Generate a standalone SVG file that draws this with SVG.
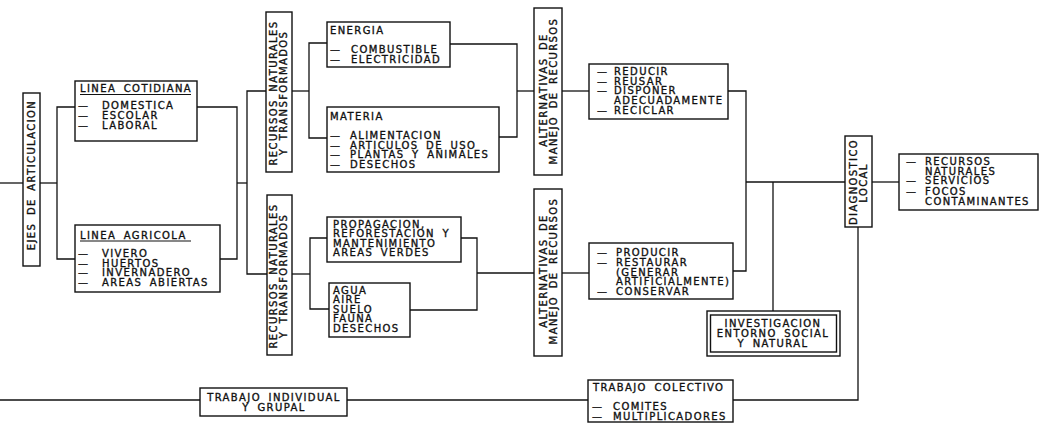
<svg xmlns="http://www.w3.org/2000/svg" width="1039" height="428" viewBox="0 0 1039 428">
<style>
.t{font-family:"DejaVu Sans","Liberation Sans",sans-serif;font-size:10px;letter-spacing:1.4px;word-spacing:3px;fill:#111;stroke:#111;stroke-width:0.35px}
.m{text-anchor:middle}
.b{fill:#fff;stroke:#111;stroke-width:1.4}
.c{fill:none;stroke:#111;stroke-width:1.3}
.u{stroke:#111;stroke-width:1.2}
</style>
<rect width="1039" height="428" fill="#fff"/>
<g id="connectors" class="c">
<path d="M0,183 H23"/>
<path d="M40,183 H57"/>
<path d="M75,107 H57 V259 H75"/>
<path d="M197,107 H237 V259 H220"/>
<path d="M237,183 H247"/>
<path d="M266,91 H247 V274 H267"/>
<path d="M292,91 H309"/>
<path d="M327,43 H309 V138 H327"/>
<path d="M450,44 H517 V137 H499"/>
<path d="M517,91 H534"/>
<path d="M562,91 H589"/>
<path d="M292,274 H310"/>
<path d="M327,238 H310 V309 H329"/>
<path d="M461,238 H477 V310 H410"/>
<path d="M477,273 H534"/>
<path d="M562,273 H589"/>
<path d="M728,91 H746 V271 H733"/>
<path d="M746,182 H845"/>
<path d="M773,182 V311"/>
<path d="M872,182 H899"/>
<path d="M858,227 V400 H733"/>
<path d="M0,400 H200"/>
<path d="M347,400 H588"/>
</g>
<g id="ejes">
<rect class="b" x="23" y="93" width="17" height="173"/>
<text class="t m" transform="translate(35,175) rotate(-90)">EJES DE ARTICULACION</text>
</g>
<g id="linea-cotidiana">
<rect class="b" x="75" y="81" width="122" height="60"/>
<text class="t" x="80" y="92">LINEA COTIDIANA</text>
<line class="u" x1="80" y1="94.5" x2="191" y2="94.5"/>
<text class="t"><tspan x="78" y="109">—</tspan><tspan x="102">DOMESTICA</tspan></text>
<text class="t"><tspan x="78" y="118.5">—</tspan><tspan x="102">ESCOLAR</tspan></text>
<text class="t"><tspan x="78" y="128.5">—</tspan><tspan x="102">LABORAL</tspan></text>
</g>
<g id="linea-agricola">
<rect class="b" x="75" y="225" width="145" height="67"/>
<text class="t" x="80" y="238.5">LINEA AGRICOLA</text>
<line class="u" x1="80" y1="241" x2="191" y2="241"/>
<text class="t"><tspan x="78" y="257">—</tspan><tspan x="102">VIVERO</tspan></text>
<text class="t"><tspan x="78" y="266.5">—</tspan><tspan x="102">HUERTOS</tspan></text>
<text class="t"><tspan x="78" y="276">—</tspan><tspan x="102">INVERNADERO</tspan></text>
<text class="t"><tspan x="78" y="286">—</tspan><tspan x="102">AREAS ABIERTAS</tspan></text>
</g>
<g id="recursos-1">
<rect class="b" x="266" y="12" width="26" height="160"/>
<text class="t m" transform="translate(276.5,93) rotate(-90)">RECURSOS NATURALES</text>
<text class="t m" transform="translate(286.5,93) rotate(-90)">Y TRANSFORMADOS</text>
</g>
<g id="energia">
<rect class="b" x="327" y="22" width="123" height="45"/>
<text class="t" x="330" y="33.5">ENERGIA</text>
<text class="t"><tspan x="330" y="53">—</tspan><tspan x="351">COMBUSTIBLE</tspan></text>
<text class="t"><tspan x="330" y="62.5">—</tspan><tspan x="351">ELECTRICIDAD</tspan></text>
</g>
<g id="materia">
<rect class="b" x="327" y="107" width="172" height="65"/>
<text class="t" x="330" y="119.5">MATERIA</text>
<text class="t"><tspan x="330" y="138.5">—</tspan><tspan x="350">ALIMENTACION</tspan></text>
<text class="t"><tspan x="330" y="148.5">—</tspan><tspan x="350">ARTICULOS DE USO</tspan></text>
<text class="t"><tspan x="330" y="158">—</tspan><tspan x="350">PLANTAS Y ANIMALES</tspan></text>
<text class="t"><tspan x="330" y="167.5">—</tspan><tspan x="350">DESECHOS</tspan></text>
</g>
<g id="alternativas-1">
<rect class="b" x="534" y="8" width="28" height="167"/>
<text class="t m" transform="translate(547,90) rotate(-90)">ALTERNATIVAS DE</text>
<text class="t m" transform="translate(556.5,91) rotate(-90)">MANEJO DE RECURSOS</text>
</g>
<g id="reducir">
<rect class="b" x="589" y="64" width="139" height="55"/>
<text class="t"><tspan x="597" y="75">—</tspan><tspan x="614">REDUCIR</tspan></text>
<text class="t"><tspan x="597" y="84.5">—</tspan><tspan x="614">REUSAR</tspan></text>
<text class="t"><tspan x="597" y="94">—</tspan><tspan x="614">DISPONER</tspan></text>
<text class="t" x="614" y="104">ADECUADAMENTE</text>
<text class="t"><tspan x="597" y="113.5">—</tspan><tspan x="614">RECICLAR</tspan></text>
</g>
<g id="recursos-2">
<rect class="b" x="267" y="195" width="25" height="160"/>
<text class="t m" transform="translate(276.5,276) rotate(-90)">RECURSOS NATURALES</text>
<text class="t m" transform="translate(286.5,276) rotate(-90)">Y TRANSFORMADOS</text>
</g>
<g id="propagacion">
<rect class="b" x="327" y="217" width="134" height="45"/>
<text class="t" x="333" y="227.5">PROPAGACION,</text>
<text class="t" x="333" y="237">REFORESTACION Y</text>
<text class="t" x="333" y="246.5">MANTENIMIENTO</text>
<text class="t" x="333" y="256">AREAS VERDES</text>
</g>
<g id="agua">
<rect class="b" x="329" y="283" width="81" height="54"/>
<text class="t" x="333" y="293.5">AGUA</text>
<text class="t" x="333" y="303">AIRE</text>
<text class="t" x="333" y="312.5">SUELO</text>
<text class="t" x="333" y="322">FAUNA</text>
<text class="t" x="333" y="332">DESECHOS</text>
</g>
<g id="alternativas-2">
<rect class="b" x="534" y="189" width="28" height="167"/>
<text class="t m" transform="translate(547,271) rotate(-90)">ALTERNATIVAS DE</text>
<text class="t m" transform="translate(556.5,271) rotate(-90)">MANEJO DE RECURSOS</text>
</g>
<g id="producir">
<rect class="b" x="589" y="243" width="144" height="56"/>
<text class="t"><tspan x="597" y="256">—</tspan><tspan x="616">PRODUCIR</tspan></text>
<text class="t"><tspan x="597" y="266">—</tspan><tspan x="616">RESTAURAR</tspan></text>
<text class="t" x="616" y="275.5">(GENERAR</text>
<text class="t" x="616" y="285">ARTIFICIALMENTE)</text>
<text class="t"><tspan x="597" y="295">—</tspan><tspan x="616">CONSERVAR</tspan></text>
</g>
<g id="investigacion">
<rect class="b" x="707" y="311" width="133" height="45"/>
<rect class="b" x="710.5" y="315" width="126" height="37"/>
<text class="t m" x="773" y="326.5">INVESTIGACION</text>
<text class="t m" x="773" y="337">ENTORNO SOCIAL</text>
<text class="t m" x="773" y="346.5">Y NATURAL</text>
</g>
<g id="diagnostico">
<rect class="b" x="845" y="136" width="27" height="91"/>
<text class="t m" transform="translate(857,182) rotate(-90)">DIAGNOSTICO</text>
<text class="t m" transform="translate(867,183) rotate(-90)">LOCAL</text>
</g>
<g id="resultados">
<rect class="b" x="899" y="154" width="139" height="56"/>
<text class="t"><tspan x="906" y="165">—</tspan><tspan x="925">RECURSOS</tspan></text>
<text class="t" x="925" y="174.5">NATURALES</text>
<text class="t"><tspan x="906" y="184">—</tspan><tspan x="925">SERVICIOS</tspan></text>
<text class="t"><tspan x="906" y="194.5">—</tspan><tspan x="925">FOCOS</tspan></text>
<text class="t" x="925" y="204.5">CONTAMINANTES</text>
</g>
<g id="trabajo-individual">
<rect class="b" x="200" y="388" width="147" height="28"/>
<text class="t m" x="274" y="401">TRABAJO INDIVIDUAL</text>
<text class="t m" x="274" y="411">Y GRUPAL</text>
</g>
<g id="trabajo-colectivo">
<rect class="b" x="588" y="380" width="145" height="42"/>
<text class="t" x="593" y="390.5">TRABAJO COLECTIVO</text>
<text class="t"><tspan x="592" y="409.5">—</tspan><tspan x="613">COMITES</tspan></text>
<text class="t"><tspan x="592" y="419.5">—</tspan><tspan x="613">MULTIPLICADORES</tspan></text>
</g>
</svg>
